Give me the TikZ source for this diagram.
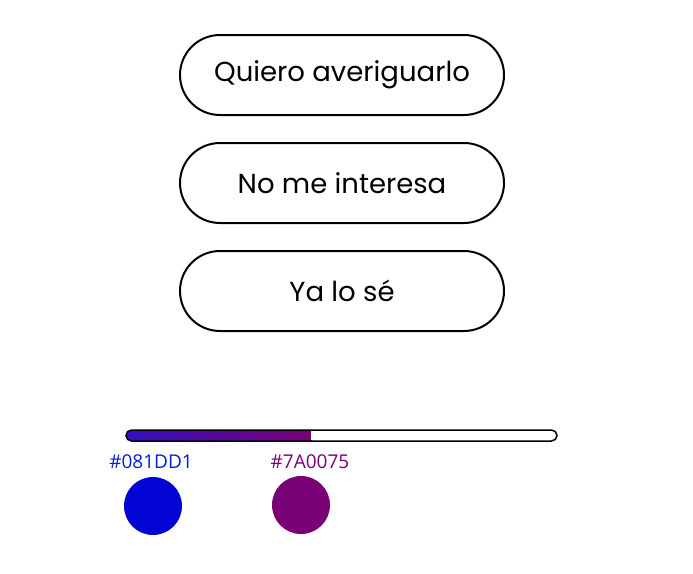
\documentclass[tikz,border=0pt]{standalone}
\usepackage{fontspec}
\setmainfont{Poppins}
\newfontfamily\labfont{Open Sans}
\definecolor{cblue}{HTML}{081DD1}
\definecolor{cpurple}{HTML}{7A0075}
\definecolor{dotblue}{HTML}{0205D4}
\definecolor{barleft}{HTML}{3510C0}
\begin{document}
\begin{tikzpicture}[x=1pt,y=-1pt,
  choice/.style={draw=black,line width=2pt,rounded corners=40pt,minimum width=324pt,minimum height=80pt,inner sep=0pt,font=\fontsize{27.5}{32}\selectfont},
  hexlabel/.style={font=\labfont\fontsize{19}{22}\selectfont,inner sep=0pt},
  dot/.style={circle,minimum size=58pt,inner sep=0pt}]
\useasboundingbox (0,0) rectangle (693,573);
\node[choice] (b1) at (342,75) {\raisebox{-2pt}{Quiero averiguarlo}};
\node[choice] (b2) at (342,183) {\raisebox{-2pt}{No me interesa}};
\node[choice] (b3) at (342,291) {\raisebox{-2pt}{Ya lo sé}};
% progress bar
\shade[left color=barleft,right color=cpurple,rounded corners=5pt] (126,430) rectangle (316,441);
\fill[white] (311,431) rectangle (318,440);
\draw[line width=1.5pt,rounded corners=5.5pt] (126,430) rectangle (557,441);
\node[hexlabel,text=cblue] (l1) at (151,462) {\#081DD1};
\node[hexlabel,text=cpurple] (l2) at (310,462) {\#7A0075};
\node[dot,fill=dotblue] (c1) at (153,506) {};
\node[dot,fill=cpurple] (c2) at (301,505) {};
\end{tikzpicture}
\end{document}
